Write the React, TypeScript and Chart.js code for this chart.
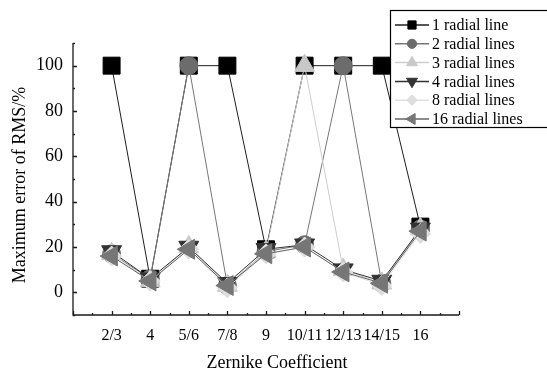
import React, { useEffect, useRef } from 'react';
import { Chart, registerables } from 'chart.js';
import { drawPoint } from 'chart.js/helpers';

Chart.register(...registerables);

// ---- data ----
const categories = ['2/3', '4', '5/6', '7/8', '9', '10/11', '12/13', '14/15', '16'];
const seriesNames = ['1 radial line', '2 radial lines', '3 radial lines', '4 radial lines', '8 radial lines', '16 radial lines'];
const line1 = [100, 6, 100, 100, 19, 100, 100, 100, 29];
const line2 = [17, 6, 100, 3, 18, 21, 100, 4, 28];
const line3 = [17, 5, 20, 3, 18, 100, 10, 4, 28];
const line4 = [18, 6, 20, 4, 19, 21, 10, 5, 28];
const line8 = [16, 5, 19, 2, 17, 20, 9, 3, 26];
const line16 = [16, 5, 19, 3, 17, 20, 9, 4, 27];
const seriesValues = [line1, line2, line3, line4, line8, line16];
const yTickValues = [0, 20, 40, 60, 80, 100];
const yMin = -10;
const yMax = 110;
const xMin = -1;
const xMax = 9;

// ---- styles ----
const seriesStyles = [
  { pointStyle: 'rect', rotation: 0, radius: 12, legendRadius: 5.8, fill: '#000000', line: '#1e1e1e' },
  { pointStyle: 'circle', rotation: 0, radius: 9, legendRadius: 4.6, fill: '#6c6c6c', line: '#777777' },
  { pointStyle: 'triangle', rotation: 0, radius: 11.5, legendRadius: 6.3, fill: '#c8c8c8', line: '#cdcdcd' },
  { pointStyle: 'triangle', rotation: 180, radius: 11.5, legendRadius: 6.3, fill: '#333333', line: '#333333' },
  { pointStyle: 'rectRot', rotation: 0, radius: 10, legendRadius: 5.2, fill: '#dedede', line: '#e2e2e2' },
  { pointStyle: 'triangle', rotation: 270, radius: 11.5, legendRadius: 6.3, fill: '#767676', line: '#666666' },
];

const FONT = "'Liberation Serif', 'Times New Roman', serif";

const axesPlugin = {
  id: 'originAxes',
  beforeDatasetsDraw(chart: any) {
    const { ctx, chartArea, scales } = chart;
    const { left, right, top, bottom } = chartArea;
    const x = scales.x;
    const y = scales.y;
    ctx.save();
    ctx.strokeStyle = '#1a1a1a';
    ctx.lineWidth = 1.3;
    ctx.beginPath();
    ctx.moveTo(left, top);
    ctx.lineTo(left, bottom);
    ctx.lineTo(right, bottom);
    for (let v = xMin; v <= xMax + 1e-9; v += 0.5) {
      const px = Math.round(x.getPixelForValue(v)) + 0.5;
      const len = Math.abs(v - Math.round(v)) < 1e-9 ? 4 : 2;
      ctx.moveTo(px, bottom);
      ctx.lineTo(px, bottom - len);
    }
    for (let v = yMin; v <= yMax + 1e-9; v += 10) {
      const py = Math.round(y.getPixelForValue(v)) + 0.5;
      const len = (v % 20 === 0) ? 4 : 2;
      ctx.moveTo(left, py);
      ctx.lineTo(left + len, py);
    }
    ctx.stroke();

    // axis titles
    ctx.fillStyle = '#000';
    ctx.font = `18px ${FONT}`;
    ctx.textAlign = 'center';
    ctx.textBaseline = 'alphabetic';
    ctx.fillText('Zernike Coefficient', 277, 368);
    ctx.save();
    ctx.translate(25, 185);
    ctx.rotate(-Math.PI / 2);
    ctx.fillText('Maximum error of RMS/%', 0, 0);
    ctx.restore();
    ctx.restore();
  },
};

const legendPlugin = {
  id: 'boxLegend',
  afterDraw(chart: any) {
    const { ctx } = chart;
    ctx.save();
    const bx = 390.5;
    const by = 10.5;
    ctx.fillStyle = '#ffffff';
    ctx.fillRect(bx, by, 170, 117);
    ctx.strokeStyle = '#000';
    ctx.lineWidth = 1.2;
    ctx.strokeRect(bx, by, 170, 117);
    chart.data.datasets.forEach((ds: any, i: number) => {
      const st = seriesStyles[i];
      const cy = 25 + i * 18.8;
      ctx.strokeStyle = st.line;
      ctx.lineWidth = 1.5;
      ctx.beginPath();
      ctx.moveTo(395, cy);
      ctx.lineTo(429, cy);
      ctx.stroke();
      ctx.fillStyle = st.fill;
      ctx.strokeStyle = st.fill;
      ctx.lineWidth = 1;
      drawPoint(ctx, { pointStyle: st.pointStyle, rotation: st.rotation, radius: st.legendRadius, borderWidth: 1 } as any, 412, cy);
      ctx.fillStyle = '#000';
      ctx.font = `16px ${FONT}`;
      ctx.textAlign = 'left';
      ctx.textBaseline = 'middle';
      ctx.fillText(ds.label, 432, cy + 1);
    });
    ctx.restore();
  },
};

export default function App() {
  const canvasRef = useRef<HTMLCanvasElement | null>(null);

  useEffect(() => {
    document.body.style.margin = '0';
    const canvas = canvasRef.current;
    if (!canvas) return;
    const datasets = seriesValues.map((vals, i) => {
      const st = seriesStyles[i];
      return {
        label: seriesNames[i],
        data: vals.map((v, k) => ({ x: k, y: v })),
        borderColor: st.line,
        borderWidth: 1,
        backgroundColor: st.fill,
        pointStyle: st.pointStyle,
        rotation: st.rotation,
        pointRadius: st.radius,
        pointHoverRadius: st.radius,
        pointBackgroundColor: st.fill,
        pointBorderColor: st.fill,
        pointBorderWidth: 1,
        order: seriesValues.length - i,
        tension: 0,
        clip: false as any,
      };
    });
    const chart = new Chart(canvas, {
      type: 'line',
      data: { datasets },
      options: {
        responsive: false,
        animation: false,
        events: [],
        devicePixelRatio: 1,
        layout: { padding: { top: 43, right: 88, left: 0, bottom: 0 } },
        plugins: { legend: { display: false }, tooltip: { enabled: false } },
        scales: {
          x: {
            type: 'linear',
            min: xMin,
            max: xMax,
            grid: { display: false, drawTicks: false },
            border: { display: false },
            afterBuildTicks: (scale: any) => {
              scale.ticks = categories.map((_, i) => ({ value: i }));
            },
            afterFit: (scale: any) => {
              scale.height = 59;
            },
            ticks: {
              autoSkip: false,
              maxRotation: 0,
              minRotation: 0,
              padding: 11,
              color: '#000',
              font: { family: FONT, size: 16 },
              callback: (v: any) => categories[v] ?? '',
            },
          },
          y: {
            type: 'linear',
            min: yMin,
            max: yMax,
            grid: { display: false, drawTicks: false },
            border: { display: false },
            afterBuildTicks: (scale: any) => {
              scale.ticks = yTickValues.map((v) => ({ value: v }));
            },
            afterFit: (scale: any) => {
              scale.width = 73;
            },
            ticks: {
              padding: 10,
              color: '#000',
              font: { family: FONT, size: 18 },
            },
          },
        },
      },
      plugins: [axesPlugin, legendPlugin],
    });
    return () => chart.destroy();
  }, []);

  return (
    <div style={{ width: 547, height: 374, position: 'relative' }}>
      <canvas ref={canvasRef} width={547} height={374} />
    </div>
  );
}
